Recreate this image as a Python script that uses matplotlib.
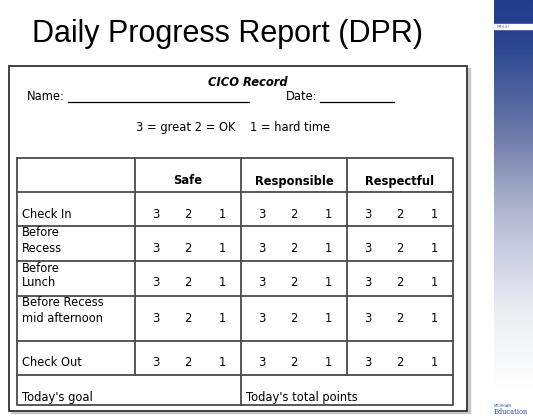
import numpy as np
import matplotlib.pyplot as plt
from matplotlib.patches import Rectangle
from matplotlib.colors import LinearSegmentedColormap

title = 'Daily Progress Report (DPR)'
form_title = 'CICO Record'
scale_text = '3 = great 2 = OK    1 = hard time'
periods = ['Check In', 'Before\nRecess', 'Before\nLunch', 'Before Recess\nmid afternoon', 'Check Out']
expectations = ['Safe', 'Responsible', 'Respectful']
ratings = [3, 2, 1]
footer_labels = ["Today's goal", "Today's total points"]

# layout in pixels (figure is 533x420)
col_x = [17, 135, 241, 347, 453]
row_y = [158, 192, 226, 261, 296, 341, 375, 405]
rating_pos = [0.2, 0.5, 0.82]
line_col = '#4a4a4a'
fs = 8.3

fig = plt.figure(figsize=(5.33, 4.2), dpi=100)
ax = fig.add_axes([0, 0, 1, 1])
ax.set_xlim(0, 533)
ax.set_ylim(420, 0)
ax.axis('off')

# right-hand slide decoration
cmap = LinearSegmentedColormap.from_list(
    'panel', [(0, '#213d8c'), (0.12, '#2b4690'), (0.35, '#6f7cab'),
              (0.55, '#b4b9d2'), (0.8, '#eceef4'), (1, '#ffffff')])
grad = np.linspace(0, 1, 256).reshape(-1, 1)
ax.imshow(grad, cmap=cmap, extent=(494, 533, 390, 0), aspect='auto', zorder=0)
ax.add_patch(Rectangle((494, 24), 39, 5, color='white', zorder=1))
ax.text(497, 27, 'MDLSI', fontsize=3, color='#6070a0', style='italic', va='center', zorder=2)
ax.text(494, 416, 'Education', fontsize=4.8, color='#2a4a9a', family='DejaVu Serif', va='bottom', zorder=2)
ax.text(494, 408, 'MICHIGAN', fontsize=2.5, color='#2a4a9a', va='bottom', zorder=2)

# title
ax.text(228, 34, title, fontsize=22, family='Liberation Sans', ha='center', va='center', color='black')

# outer box with shadow
ax.add_patch(Rectangle((11, 68), 459, 345, color='#c8c8c8', zorder=1))
ax.add_patch(Rectangle((9, 66), 458, 345, facecolor='white', edgecolor='#333333', lw=1.3, zorder=2))

# heading lines
ax.text(248, 82, form_title, fontsize=fs, weight='bold', style='italic', ha='center', va='center', zorder=3)
ax.text(27, 97, 'Name:', fontsize=fs, va='center', zorder=3)
ax.plot([68, 249], [102, 102], color='black', lw=0.9, zorder=3)
ax.text(286, 97, 'Date:', fontsize=fs, va='center', zorder=3)
ax.plot([320, 394], [102, 102], color='black', lw=0.9, zorder=3)
ax.text(136, 127, scale_text, fontsize=fs, va='center', zorder=3)

# grid
top, bottom = row_y[0], row_y[-1]
ax.plot([col_x[0], col_x[-1], col_x[-1], col_x[0], col_x[0]], [top, top, bottom, bottom, top],
        color=line_col, lw=1.3, zorder=3)
for y in row_y[1:-1]:
    ax.plot([col_x[0], col_x[-1]], [y, y], color=line_col, lw=1.3, zorder=3)
for x in col_x[1:-1]:
    y_end = bottom if x == col_x[2] else row_y[-2]
    ax.plot([x, x], [top, y_end], color=line_col, lw=1.3, zorder=3)

# headers
for j, name in enumerate(expectations):
    cx = (col_x[j + 1] + col_x[j + 2]) / 2
    ax.text(cx, row_y[1] - 11, name, fontsize=fs, weight='bold', ha='center', va='center', zorder=4)

# rows
for i, label in enumerate(periods):
    cell_top, cell_bot = row_y[i + 1], row_y[i + 2]
    lines = label.split('\n')
    if len(lines) > 1:
        ys = [cell_top + 7 + 15 * k for k in range(len(lines))]
    else:
        ys = [cell_bot - 12]
    for txt, y in zip(lines, ys):
        ax.text(22, y, txt, fontsize=fs, va='center', zorder=4)
    for j in range(len(expectations)):
        x0, x1 = col_x[j + 1], col_x[j + 2]
        for r, p in zip(ratings, rating_pos):
            ax.text(x0 + p * (x1 - x0), ys[-1], str(r), fontsize=fs, ha='center', va='center', zorder=4)

# footer
ax.text(22, row_y[-1] - 8, footer_labels[0], fontsize=fs, va='center', zorder=4)
ax.text(246, row_y[-1] - 8, footer_labels[1], fontsize=fs, va='center', zorder=4)

fig.savefig('out.png', dpi=100)
